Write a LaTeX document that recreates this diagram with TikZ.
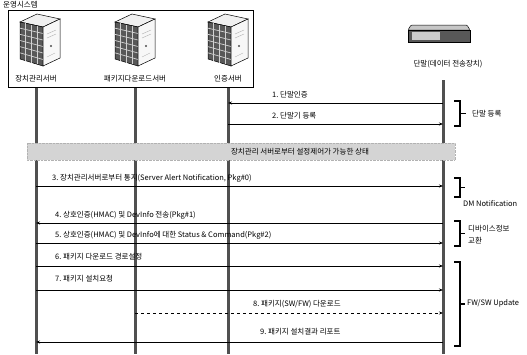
\documentclass[tikz,border=0pt]{standalone}
\usepackage{fontspec}
\setmainfont{Noto Sans CJK KR}
\usetikzlibrary{arrows.meta}
\definecolor{lifeGray}{RGB}{80,80,80}
\definecolor{bandGray}{RGB}{212,212,212}
\definecolor{caseDark}{RGB}{88,88,88}
\newcommand{\towerserver}[1]{%
	\begin{scope}[shift={#1}]
		\filldraw[fill=gray!12, draw=black, line width=0.5pt] (-20,8) -- (-3,0) -- (20,5) -- (3,13) -- cycle;
		\filldraw[fill=caseDark, draw=black, line width=0.5pt] (-20,8) -- (3,13) -- (3,52) -- (-20,45) -- cycle;
		\foreach \i in {1,...,3}
			\draw[gray!35, line width=0.7pt] (-20+5.75*\i,8+1.25*\i) -- (-20+5.75*\i,45+1.75*\i);
		\foreach \j in {1,...,5}
			\draw[gray!35, line width=0.7pt] (-20,8+\j*37/6) -- (3,13+\j*39/6);
		\filldraw[fill=gray!6, draw=black, line width=0.5pt] (3,13) -- (20,5) -- (20,44) -- (3,52) -- cycle;
		\draw[gray!60] (7,20) -- (16,16) (7,24) -- (16,20);
		\fill[black!70] (11,32) circle (1.1);
		\draw[gray!60] (7,43) -- (15,39);
	\end{scope}
}
% bracket grouping messages at the terminal side
\newcommand{\grpbrace}[3]{%
	\draw[line width=1.2pt] (454,#1) -- (460,#1) -- (460,#2) -- (454,#2);
	\draw[line width=1.2pt] (460,{(#1+#2)/2}) -- (#3,{(#1+#2)/2});
}
\tikzset{
	lifeline/.style={draw=lifeGray, line width=3pt},
	msg/.style={draw=black, line width=0.7pt, -{Stealth[length=4pt,width=3pt]}},
	lbl/.style={font=\fontsize{7.5}{8}\selectfont, inner sep=0pt, anchor=base west},
	head/.style={font=\fontsize{7.5}{8}\selectfont, inner sep=0pt, anchor=base}
}

\begin{document}
\begin{tikzpicture}[x=1pt, y=-1pt]
	\useasboundingbox (0,0) rectangle (527,354);

	% operating system group
	\node[lbl] (ops) at (3,7) {운영시스템};
	\draw[line width=0.9pt] (8,10) rectangle (253,87);
	\towerserver{(40,14)}
	\towerserver{(135,14)}
	\towerserver{(228,14)}
	\node[head] (dm) at (36,81) {장치관리서버};
	\node[head] (pkg) at (135,81) {패키지다운로드서버};
	\node[head] (auth) at (228,81) {인증서버};

	% terminal
	\filldraw[fill=gray!45, draw=black, line width=0.5pt, rounded corners=1pt] (408,30) -- (411,25) -- (467,25) -- (470,30) -- cycle;
	\filldraw[fill=caseDark, draw=black, line width=0.5pt] (408,30) rectangle (470,42);
	\fill[gray!40] (412,32) rectangle (440,40);
	\node[head] (term) at (448,66) {단말(데이터 전송장치)};

	\coordinate (top) at (0,88);
	\coordinate (bot) at (0,354);
	\draw[lifeline] (dm |- top) -- (dm |- bot);
	\draw[lifeline] (pkg |- top) -- (pkg |- bot);
	\draw[lifeline] (auth |- top) -- (auth |- bot);
	\draw[lifeline] (443,80) coordinate (tl) -- (tl |- bot);

	% message rows
	\coordinate (m1) at (0,103);
	\coordinate (m2) at (0,124);
	\coordinate (m3) at (0,186);
	\coordinate (m4) at (0,223);
	\coordinate (m5) at (0,243);
	\coordinate (m6) at (0,266);
	\coordinate (m7) at (0,290);
	\coordinate (m8) at (0,313);
	\coordinate (m9) at (0,342);

	\draw[msg] (tl |- m1) -- (auth |- m1);
	\node[lbl] (l1) at (272,97) {1.\ 단말인증};
	\draw[msg] (auth |- m2) -- (tl |- m2);
	\node[lbl] (l2) at (272,118) {2.\ 단말기 등록};

	\filldraw[fill=bandGray, draw=gray!60, densely dotted] (27,143) rectangle (455,160);
	\node[head] (state) at (300,154.5) {장치관리 서버로부터 설정제어가 가능한 상태};

	\draw[msg] (dm |- m3) -- (tl |- m3);
	\node[lbl] (l3) at (52,180) {3.\ 장치관리서버로부터 통지(Server Alert Notification, Pkg\#0)};
	\draw[msg] (tl |- m4) -- (dm |- m4);
	\node[lbl] (l4) at (55,217) {4.\ 상호인증(HMAC) 및 DevInfo 전송(Pkg\#1)};
	\draw[msg] (dm |- m5) -- (tl |- m5);
	\node[lbl] (l5) at (55,237) {5.\ 상호인증(HMAC) 및 DevInfo에 대한 Status \& Command(Pkg\#2)};
	\draw[msg] (dm |- m6) -- (tl |- m6);
	\node[lbl] (l6) at (55,259) {6.\ 패키지 다운로드 경로설정};
	\draw[msg] (dm |- m7) -- (tl |- m7);
	\node[lbl] (l7) at (55,281) {7.\ 패키지 설치요청};
	\draw[msg, dashed] (pkg |- m8) -- (tl |- m8);
	\node[lbl] (l8) at (253,306) {8.\ 패키지(SW/FW) 다운로드};
	\draw[msg] (tl |- m9) -- (dm |- m9);
	\node[lbl] (l9) at (260,334) {9.\ 패키지 설치결과 리포트};

	% groups
	\grpbrace{101}{126}{466}
	\node[lbl] (g1) at (472,116) {단말 등록};
	\grpbrace{178}{197}{465}
	\node[lbl] (g2) at (463,206) {DM Notification};
	\grpbrace{221}{246}{465}
	\node[lbl] (g3) at (468,231) {디바이스정보};
	\node[lbl] (g3b) at (468,243) {교환};
	\grpbrace{262}{346}{465}
	\node[lbl] (g4) at (467,305) {FW/SW Update};
\end{tikzpicture}
\end{document}
